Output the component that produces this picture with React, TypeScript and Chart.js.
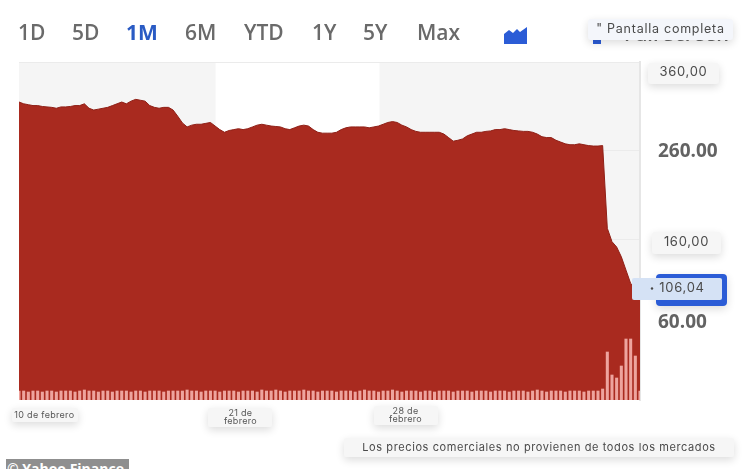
import React, { useEffect, useRef } from "react";
import { Chart, registerables } from "chart.js";

Chart.register(...registerables);

const ranges = ["1D", "5D", "1M", "6M", "YTD", "1Y", "5Y", "Max"];
const rangeLeft = [18, 72, 126, 185, 244, 312, 363, 417];

const prices = [
  315, 313, 312, 311, 311, 310, 309.5, 309, 308, 309.5, 309.5, 310, 311, 311, 313, 308, 306, 307, 308, 309,
  311, 313, 315, 313, 316, 318, 317, 316, 311, 309, 308, 309, 309, 306, 299, 291.5, 287, 289, 290, 290,
  291, 292, 288, 284, 281, 283, 284, 285, 284, 285, 287, 289, 290, 289, 288, 287.5, 287, 285, 284, 286,
  288, 289, 288, 284, 281, 280, 280, 280, 281, 284, 286, 287, 287, 287, 287, 286, 287, 288, 290, 292,
  293, 292, 289, 287, 284, 282, 281, 281, 281, 281, 281, 279, 275, 271, 272, 273.5, 277, 279, 281, 281,
  282, 282.5, 284, 284, 285, 284, 283, 282.5, 282, 282, 281, 279, 276, 275, 275, 272, 270, 268, 267, 267,
  268, 267, 266, 265.5, 265.5, 266, 173, 158, 152, 141, 126, 111, 106, 106.04,
];

const volumes = [
  9, 9, 8, 9, 9, 8, 9, 9, 8, 9, 9, 9, 8, 9, 10, 9, 9, 8, 9, 9,
  8, 9, 9, 9, 8, 9, 9, 8, 9, 9, 9, 8, 9, 9, 9, 9, 10, 9, 9, 8,
  9, 9, 9, 8, 9, 9, 9, 8, 9, 9, 9, 8, 10, 9, 9, 10, 9, 8, 9, 9,
  9, 10, 9, 9, 8, 9, 9, 9, 8, 9, 9, 9, 8, 9, 10, 9, 9, 8, 9, 9,
  10, 9, 8, 9, 9, 9, 8, 9, 9, 8, 9, 9, 9, 8, 9, 9, 9, 8, 9, 9,
  9, 8, 9, 9, 9, 8, 9, 9, 9, 8, 9, 10, 9, 8, 9, 9, 9, 8, 9, 9,
  9, 8, 9, 9, 9, 11, 48, 25, 22, 34, 61, 61, 44, 9,
];

const categories = prices.map((_, i) => String(i));

const yTicks = [360, 260, 160, 60];
const yTickLabels = ["360,00", "260.00", "160,00", "60.00"];
const yTickStyle = [
  { dy: 10, pill: [648, 63, 71, 21], bold: false },
  { dy: 0.5, pill: null, bold: true },
  { dy: 2, pill: [652, 232, 69, 22], bold: false },
  { dy: -6.5, pill: null, bold: true },
];
const currentLabel = "106,04";

const xTickIndex = [5, 47, 83];
const xTickLabels = [["10 de febrero"], ["21 de", "febrero"], ["28 de", "febrero"]];
const xTickStyle = [
  { dx: 2, top: 415, pill: [12, 408, 66, 14] },
  { dx: 2, top: 413, pill: [208, 408, 64, 19] },
  { dx: -1, top: 411, pill: [374, 406, 64, 19] },
];

const bandStart = 42.1;
const bandEnd = 77.2;

function roundPill(ctx: any, x: number, y: number, w: number, h: number, r: number, fill: string, shadow = true) {
  ctx.save();
  if (shadow) {
    ctx.shadowColor = "rgba(0,0,0,0.14)";
    ctx.shadowBlur = 8;
    ctx.shadowOffsetY = 3;
  }
  ctx.fillStyle = fill;
  ctx.beginPath();
  ctx.roundRect(x, y, w, h, r);
  ctx.fill();
  ctx.restore();
}

const decorations = {
  id: "decorations",
  beforeDraw(chart: any) {
    const { ctx, chartArea, scales } = chart;
    ctx.save();
    ctx.fillStyle = "#f5f5f5";
    ctx.fillRect(chartArea.left, chartArea.top, chartArea.width, chartArea.height);
    const a = scales.x.getPixelForValue(bandStart);
    const b = scales.x.getPixelForValue(bandEnd);
    ctx.fillStyle = "#ffffff";
    ctx.fillRect(a, chartArea.top, b - a, chartArea.height);
    ctx.restore();
  },
  afterDraw(chart: any) {
    const { ctx, scales } = chart;
    ctx.save();
    ctx.textAlign = "center";
    ctx.textBaseline = "middle";

    xTickIndex.forEach((idx, i) => {
      const s = xTickStyle[i];
      const [px, py, pw, ph] = s.pill;
      roundPill(ctx, px, py, pw, ph, 2, "#f6f6f6");
      ctx.fillStyle = "#555";
      ctx.font = '9px Inter, "Noto Sans", sans-serif';
      (ctx as any).letterSpacing = "0.3px";
      const x = scales.x.getPixelForValue(idx) + s.dx;
      xTickLabels[i].forEach((t, k) => ctx.fillText(t, x, s.top + k * 8.5));
    });

    yTicks.forEach((v, i) => {
      const s = yTickStyle[i];
      const y = scales.y.getPixelForValue(v) + s.dy;
      if (s.pill) {
        const [px, py, pw, ph] = s.pill;
        roundPill(ctx, px, py, pw, ph, 3, "#f6f6f6");
        ctx.fillStyle = "#4a4a4a";
        ctx.font = '13px Inter, "Noto Sans", sans-serif';
        (ctx as any).letterSpacing = "0.7px";
        ctx.fillText(yTickLabels[i], px + pw / 2, y);
      } else {
        ctx.fillStyle = "#636363";
        ctx.font = 'bold 19px "Open Sans", "Noto Sans", sans-serif';
        (ctx as any).letterSpacing = "0px";
        ctx.textAlign = "left";
        ctx.fillText(yTickLabels[i], 658, y);
        ctx.textAlign = "center";
      }
    });

    roundPill(ctx, 656, 274, 71, 32, 4, "#2b5cd6");
    roundPill(ctx, 632, 278, 90, 22, 2, "#d5e2f5", false);
    ctx.fillStyle = "#4a4a4a";
    ctx.font = '13px Inter, "Noto Sans", sans-serif';
    (ctx as any).letterSpacing = "0.7px";
    ctx.fillText(currentLabel, 682, 288.5);
    ctx.beginPath();
    ctx.arc(652, 288.5, 1.2, 0, Math.PI * 2);
    ctx.fill();
    ctx.restore();
  },
};

const fixed = (s: React.CSSProperties): React.CSSProperties => ({ position: "absolute", whiteSpace: "nowrap", ...s });

export default function App() {
  const ref = useRef<HTMLCanvasElement>(null);
  useEffect(() => {
    const chart = new Chart(ref.current as HTMLCanvasElement, {
      type: "bar",
      data: {
        labels: categories,
        datasets: [
          {
            type: "bar",
            data: volumes,
            yAxisID: "vol",
            backgroundColor: "rgba(255,195,190,0.8)",
            barThickness: 2.4,
            borderWidth: 0,
            order: 1,
          },
          {
            type: "line",
            data: prices,
            yAxisID: "y",
            borderColor: "#8f2017",
            borderWidth: 1,
            backgroundColor: "#a92a1f",
            fill: "start",
            pointRadius: 0,
            tension: 0,
            order: 2,
          },
        ],
      } as any,
      plugins: [decorations],
      options: {
        responsive: false,
        animation: false,
        layout: { padding: { left: 19, right: 110, top: 62, bottom: 69 } },
        plugins: { legend: { display: false }, tooltip: { enabled: false } },
        scales: {
          x: {
            type: "category",
            display: false,
            offset: false,
            stacked: false,
          },
          y: {
            position: "right",
            min: -20,
            max: 360,
            afterBuildTicks: (s: any) => {
              s.ticks = yTicks.map((value) => ({ value }));
            },
            afterFit: (s: any) => {
              s.width = 0;
            },
            ticks: { display: false },
            grid: { color: "#ebebeb", drawTicks: false, lineWidth: 1 },
            border: { color: "#e6e6e6", width: 2 },
          },
          vol: { display: false, min: 0, max: 338 },
        },
      } as any,
    });
    return () => chart.destroy();
  }, []);

  const rangeFont = '"Open Sans", "Noto Sans", sans-serif';
  const pillFont = 'Inter, "Noto Sans", sans-serif';
  const shadow = "0 3px 8px rgba(0,0,0,0.14)";

  return (
    <div style={{ position: "fixed", left: 0, top: 0, width: 750, height: 469, overflow: "hidden", background: "#fff", filter: "blur(0.4px)" }}>
      <canvas ref={ref} width={750} height={469} style={{ position: "absolute", left: 0, top: 0, width: 750, height: 469 }} />
      {ranges.map((r, i) => (
        <div
          key={r}
          style={fixed({
            left: rangeLeft[i],
            top: 18,
            fontFamily: rangeFont,
            fontSize: 21,
            lineHeight: "28px",
            fontWeight: r === "1M" ? 700 : 600,
            color: r === "1M" ? "#2a5bc4" : "#6a6a6a",
          })}
        >
          {r}
        </div>
      ))}
      <svg width={24} height={17} viewBox="0 0 24 17" style={{ position: "absolute", left: 504, top: 27 }}>
        <path d="M0 7 L5 3 L9 6 L13 2 L16 5 L23 0 L23 17 L0 17 Z" fill="#2b5cd6" />
      </svg>
      <div style={{ position: "absolute", left: 593, top: 38, width: 8, height: 6, background: "#2b5cd6" }} />
      <div style={fixed({ left: 624, top: 23, fontFamily: rangeFont, fontSize: 20, lineHeight: "22px", fontWeight: 600, color: "#666" })}>Full Screen</div>
      <div
        style={fixed({
          left: 588,
          top: 19,
          width: 145,
          height: 21,
          borderRadius: 3,
          background: "#f4f6fb",
          boxShadow: shadow,
          fontFamily: pillFont,
          fontSize: 12.5,
          lineHeight: "20px",
          letterSpacing: 0.75,
          color: "#4a4a4a",
          textAlign: "center",
        })}
      >
        " Pantalla completa
      </div>
      <div
        style={fixed({
          left: 344,
          top: 438,
          width: 390,
          height: 19,
          borderRadius: 2,
          background: "#f6f6f6",
          boxShadow: shadow,
          fontFamily: pillFont,
          fontSize: 11,
          lineHeight: "19px",
          letterSpacing: 0.6,
          color: "#4a4a4a",
          textAlign: "center",
        })}
      >
        Los precios comerciales no provienen de todos los mercados
      </div>
      <div
        style={fixed({
          left: 6,
          top: 459,
          width: 123,
          height: 20,
          background: "#8f8f8f",
          color: "#fff",
          fontFamily: rangeFont,
          fontWeight: 700,
          fontSize: 14,
          lineHeight: "19px",
          paddingLeft: 1,
          boxSizing: "border-box",
        })}
      >
        © Yahoo Finance
      </div>
    </div>
  );
}
